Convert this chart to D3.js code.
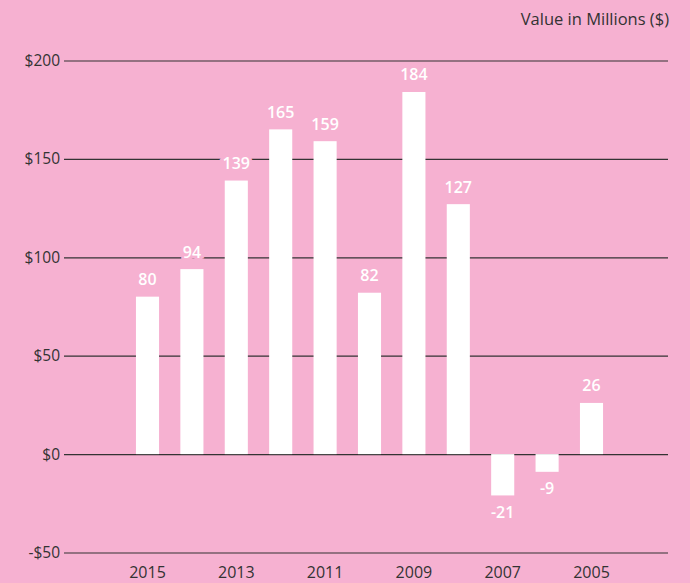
<!DOCTYPE html>
<html>
<head>
<meta charset="utf-8">
<script src="https://cdn.jsdelivr.net/npm/d3@7"></script>
<style>
  body { margin: 0; background: #f6b1d1; }
  svg { display: block; font-family: "Open Sans", sans-serif; }
</style>
</head>
<body>
<div id="chart-area"></div>
<script>
const width = 690, height = 583;

// Data
const years = ["2015", "2014", "2013", "2012", "2011", "2010", "2009", "2008", "2007", "2006", "2005"];
const values = [80, 94, 139, 165, 159, 82, 184, 127, -21, -9, 26];
const yTicks = [-50, 0, 50, 100, 150, 200];
const xTickLabels = ["2015", "2013", "2011", "2009", "2007", "2005"];

const data = years.map((y, i) => ({year: y, value: values[i]}));

const bg = "#f6b1d1";

const x = d3.scaleBand()
    .domain(years)
    .range([125.3, 613.7])
    .paddingInner(0.48)
    .paddingOuter(0.24);

const y = d3.scaleLinear()
    .domain([-50, 200])
    .range([552.5, 60.5]);

const svg = d3.select("#chart-area").append("svg")
    .attr("width", width)
    .attr("height", height);

svg.append("rect")
    .attr("width", width)
    .attr("height", height)
    .attr("fill", bg);

// gridlines + y labels
const yAxis = g => g
    .attr("transform", "translate(64,0)")
    .call(d3.axisRight(y).tickValues(yTicks).tickSize(604)
        .tickFormat(d => (d < 0 ? "-$" : "$") + Math.abs(d)))
    .call(g => g.select(".domain").remove())
    .call(g => g.selectAll(".tick line").attr("stroke", "#333").attr("stroke-width", 1.2))
    .call(g => g.selectAll(".tick text")
        .attr("x", -4)
        .attr("text-anchor", "end")
        .attr("fill", "#333")
        .attr("font-size", 15.5)
        .attr("font-family", "'Open Sans', sans-serif"));

svg.append("g").call(yAxis);

// bars
svg.append("g")
    .attr("fill", "#fff")
  .selectAll("rect")
  .data(data)
  .join("rect")
    .attr("x", d => x(d.year))
    .attr("width", x.bandwidth())
    .attr("y", d => y(Math.max(0, d.value)))
    .attr("height", d => Math.abs(y(d.value) - y(0)));

// value labels
svg.append("g")
    .attr("font-size", 16)
    .attr("font-weight", 600)
    .attr("text-anchor", "middle")
  .selectAll("text")
  .data(data)
  .join("text")
    .attr("x", d => x(d.year) + x.bandwidth() / 2)
    .attr("y", d => d.value >= 0 ? y(d.value) - 11.5 : y(d.value) + 22.5)
    .attr("fill", "#fff")
    .attr("stroke", bg)
    .attr("stroke-width", 6)
    .attr("paint-order", "stroke")
    .text(d => d.value);

// x labels
const xAxis = g => g
    .attr("transform", "translate(0,560)")
    .call(d3.axisBottom(x).tickValues(xTickLabels).tickSize(0))
    .call(g => g.select(".domain").remove())
    .call(g => g.selectAll(".tick text")
        .attr("dy", "1em")
        .attr("y", 2)
        .attr("fill", "#333")
        .attr("font-size", 16)
        .attr("font-family", "'Open Sans', sans-serif"));

svg.append("g").call(xAxis);

svg.append("text")
    .attr("x", 669)
    .attr("y", 25)
    .attr("text-anchor", "end")
    .attr("fill", "#333")
    .attr("font-size", 16.5)
    .text("Value in Millions ($)");
</script>
</body>
</html>
